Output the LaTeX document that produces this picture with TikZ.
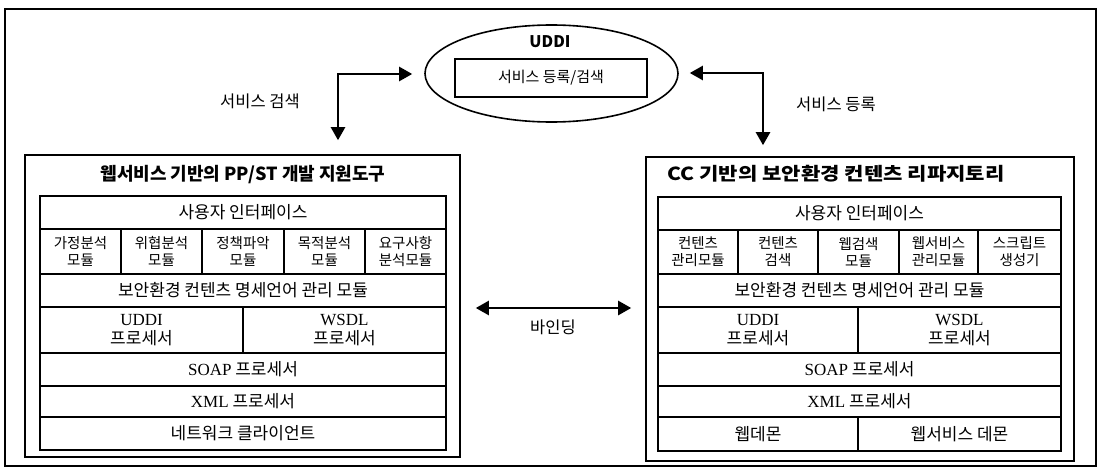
\documentclass[tikz,border=0pt]{standalone}
\usepackage{fontspec}
\usepackage{graphicx}
\setmainfont{Noto Sans CJK KR}
\newfontfamily\lat{Liberation Serif}
\usetikzlibrary{arrows.meta,shapes.geometric}
\begin{document}
\begin{tikzpicture}[x=1pt,y=-1pt,
  cell/.style={draw, line width=1.6pt, inner sep=0pt, align=center, font=\fontsize{17}{18.5}\selectfont},
  modcell/.style={cell, font=\fontsize{14.5}{17}\selectfont},
  outerbox/.style={draw, line width=1.6pt, inner sep=0pt},
  titletext/.style={font=\fontsize{18}{21}\selectfont\bfseries},
  lbl/.style={font=\fontsize{16.5}{19}\selectfont},
  dbl/.style={line width=2.4pt, {Triangle[length=13pt,width=14pt]}-{Triangle[length=13pt,width=14pt]}}
]
\useasboundingbox (0,0) rectangle (1099,468);
% outer frame
\node[draw, line width=1.2pt, minimum width=1091pt, minimum height=457pt, inner sep=0pt] (frame) at (550.5,237.5) {};

% UDDI ellipse
\node[draw, ellipse, line width=1.6pt, minimum width=253pt, minimum height=97pt, inner sep=0pt] (ell) at (551.5,73.5) {};
\node[font=\fontsize{16}{19}\selectfont\bfseries] (uddi) at (550,42) {UDDI};
\node[cell, minimum width=192pt, minimum height=38pt, font=\fontsize{15}{18}\selectfont] (reg) at (551,78) {서비스 등록/검색};

% left box
\node[outerbox, minimum width=435pt, minimum height=302pt] (lbox) at (242.5,306) {};
\node[titletext] (ltitle) at (243,175) {웹서비스 기반의 PP/ST 개발 지원도구};
\node[cell, minimum width=406pt, minimum height=33pt] (lui) at (243,212.5) {사용자 인터페이스};
\node[modcell, minimum width=81pt, minimum height=45pt] (lm1) at (80.5,251.5) {가정분석\\모듈};
\node[modcell, minimum width=81pt, minimum height=45pt] (lm2) at (161.5,251.5) {위협분석\\모듈};
\node[modcell, minimum width=82pt, minimum height=45pt] (lm3) at (243,251.5) {정책파악\\모듈};
\node[modcell, minimum width=81pt, minimum height=45pt] (lm4) at (324.5,251.5) {목적분석\\모듈};
\node[modcell, minimum width=81pt, minimum height=45pt] (lm5) at (405.5,251.5) {요구사항\\분석모듈};
\node[cell, minimum width=406pt, minimum height=33pt] (lsec) at (243,290.5) {보안환경 컨텐츠 명세언어 관리 모듈};
\node[cell, minimum width=203pt, minimum height=46pt] (luddi) at (141.5,330) {{\lat UDDI}\\프로세서};
\node[cell, minimum width=203pt, minimum height=46pt] (lwsdl) at (344.5,330) {{\lat WSDL}\\프로세서};
\node[cell, minimum width=406pt, minimum height=33pt] (lsoap) at (243,369.5) {{\lat SOAP} 프로세서};
\node[cell, minimum width=406pt, minimum height=31pt] (lxml) at (243,401.5) {{\lat XML} 프로세서};
\node[cell, minimum width=406pt, minimum height=33pt] (lnet) at (243,433.5) {네트워크 클라이언트};

% right box
\node[outerbox, minimum width=428pt, minimum height=304pt] (rbox) at (860,309) {};
\node[titletext] (rtitle) at (836,174) {\scalebox{1.17}[1]{CC 기반의 보안환경 컨텐츠 리파지토리}};
\node[cell, minimum width=403pt, minimum height=33pt] (rui) at (859.5,213.5) {사용자 인터페이스};
\node[modcell, minimum width=80pt, minimum height=44pt] (rm1) at (698,252) {컨텐츠\\관리모듈};
\node[modcell, minimum width=80pt, minimum height=44pt] (rm2) at (778,252) {컨텐츠\\검색};
\node[modcell, minimum width=81pt, minimum height=44pt] (rm3) at (858.5,252) {웹검색\\모듈};
\node[modcell, minimum width=79pt, minimum height=44pt] (rm4) at (938.5,252) {웹서비스\\관리모듈};
\node[modcell, minimum width=83pt, minimum height=44pt] (rm5) at (1019.5,252) {스크립트\\생성기};
\node[cell, minimum width=403pt, minimum height=33pt] (rsec) at (859.5,290.5) {보안환경 컨텐츠 명세언어 관리 모듈};
\node[cell, minimum width=200pt, minimum height=46pt] (ruddi) at (758,330) {{\lat UDDI}\\프로세서};
\node[cell, minimum width=203pt, minimum height=46pt] (rwsdl) at (959.5,330) {{\lat WSDL}\\프로세서};
\node[cell, minimum width=403pt, minimum height=33pt] (rsoap) at (859.5,369.5) {{\lat SOAP} 프로세서};
\node[cell, minimum width=403pt, minimum height=31pt] (rxml) at (859.5,401.5) {{\lat XML} 프로세서};
\node[cell, minimum width=200pt, minimum height=34pt] (rweb) at (758,434) {웹데몬};
\node[cell, minimum width=203pt, minimum height=34pt] (rwsd) at (959.5,434) {웹서비스 데몬};

% arrows
\coordinate (lc) at (338,74);
\coordinate (rc) at (763,73);
\draw[dbl, shorten <=14pt, shorten >=12pt] (lbox.north -| lc) -- (lc) -- (lc -| ell.west);
\draw[dbl, shorten <=11pt, shorten >=11pt] (rbox.north -| rc) -- (rc) -- (rc -| ell.east);
\node[lbl] (lsearch) at (260,101) {서비스 검색};
\node[lbl] (rregister) at (836,104) {서비스 등록};

\coordinate (bind) at (553,308);
\draw[dbl, shorten <=15pt, shorten >=14pt] (lbox.east |- bind) -- (rbox.west |- bind);
\node[lbl] (bindlbl) at (553,327) {바인딩};
\end{tikzpicture}
\end{document}
